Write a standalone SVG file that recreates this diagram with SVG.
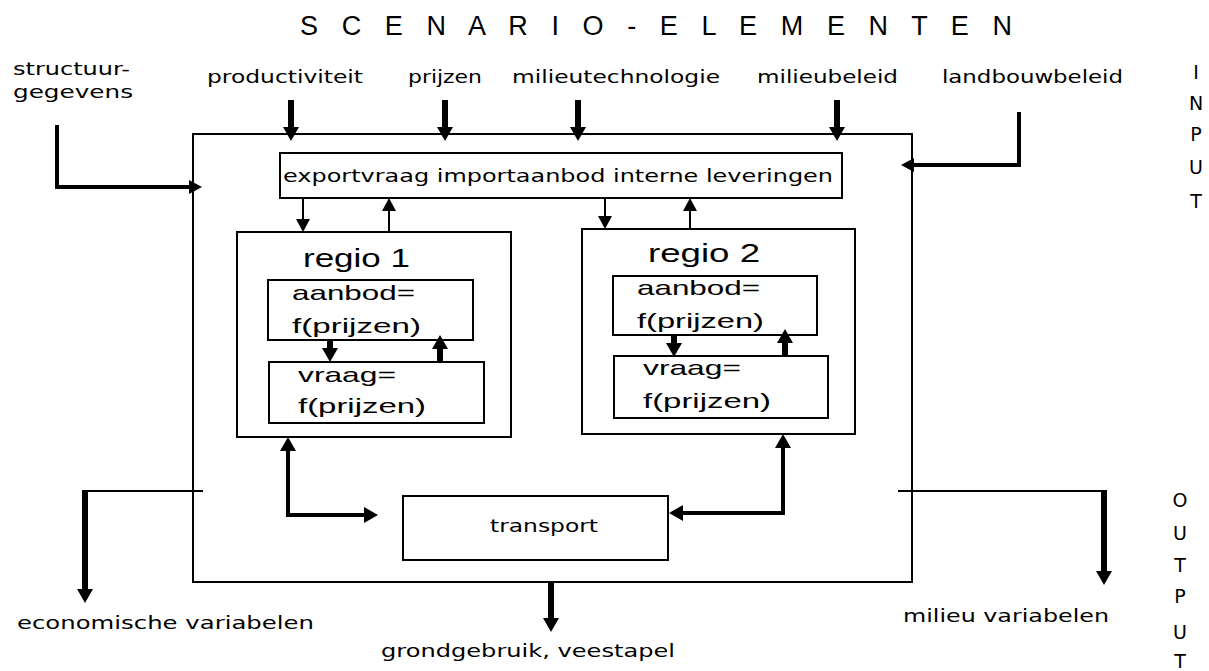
<svg xmlns="http://www.w3.org/2000/svg" width="1209" height="671" viewBox="0 0 1209 671">
<style>
.box{fill:none;stroke:#000;stroke-width:2}
.lbl{font-family:"DejaVu Sans","Liberation Sans",sans-serif;font-size:17px;fill:#000}
.big{font-family:"Liberation Sans",Arial,sans-serif;font-size:21px;fill:#000}
.reg{font-family:"Liberation Sans",Arial,sans-serif;font-size:26px;fill:#000}
.ttl{font-family:"Liberation Sans",Arial,sans-serif;font-size:27px;fill:#000}
.side{font-family:"DejaVu Sans","Liberation Sans",sans-serif;font-size:19px;fill:#000;text-anchor:middle}
.thick{fill:none;stroke:#000;stroke-width:6}
.mid{fill:none;stroke:#000;stroke-width:4}
.thin{fill:none;stroke:#000;stroke-width:2}
</style>
<defs>
<marker id="hb" markerUnits="userSpaceOnUse" markerWidth="16" markerHeight="16" refX="2" refY="8" orient="auto-start-reverse"><path d="M0,0 L14,8 L0,16 z" fill="#000"/></marker>
<marker id="hs" markerUnits="userSpaceOnUse" markerWidth="14" markerHeight="14" refX="2" refY="7" orient="auto-start-reverse"><path d="M0,0 L13,7 L0,14 z" fill="#000"/></marker>
</defs>
<text class="ttl" x="300" y="35" textLength="712" lengthAdjust="spacing">S C E N A R I O - E L E M E N T E N</text>
<g id="inputs">
<text class="lbl" x="13" y="75" textLength="117" lengthAdjust="spacingAndGlyphs">structuur-</text>
<text class="lbl" x="13" y="98" textLength="120" lengthAdjust="spacingAndGlyphs">gegevens</text>
<text class="lbl" x="207" y="83" textLength="156" lengthAdjust="spacingAndGlyphs">productiviteit</text>
<text class="lbl" x="408" y="83" textLength="74" lengthAdjust="spacingAndGlyphs">prijzen</text>
<text class="lbl" x="512" y="83" textLength="208" lengthAdjust="spacingAndGlyphs">milieutechnologie</text>
<text class="lbl" x="757" y="83" textLength="141" lengthAdjust="spacingAndGlyphs">milieubeleid</text>
<text class="lbl" x="942" y="83" textLength="181" lengthAdjust="spacingAndGlyphs">landbouwbeleid</text>
</g>
<g id="input-side">
<text class="side" x="1196" y="79">I</text>
<text class="side" x="1196" y="110">N</text>
<text class="side" x="1196" y="141">P</text>
<text class="side" x="1196" y="174">U</text>
<text class="side" x="1196" y="208">T</text>
</g>
<g id="output-side">
<text class="side" x="1180" y="507">O</text>
<text class="side" x="1180" y="540">U</text>
<text class="side" x="1180" y="572">T</text>
<text class="side" x="1180" y="603">P</text>
<text class="side" x="1180" y="639">U</text>
<text class="side" x="1180" y="668">T</text>
</g>
<g id="systeem"><rect class="box" x="193" y="134" width="719" height="448"/></g>
<g id="export"><rect class="box" x="280" y="153" width="562" height="45"/>
<text class="lbl" x="283" y="182" textLength="550" lengthAdjust="spacingAndGlyphs">exportvraag importaanbod interne leveringen</text></g>
<g id="regio1"><rect class="box" x="237" y="232" width="274" height="205"/>
<text class="reg" x="303" y="267" textLength="107" lengthAdjust="spacingAndGlyphs">regio 1</text></g>
<g id="aanbod1"><rect class="box" x="268" y="280" width="205" height="60"/>
<text class="big" x="292" y="300" textLength="123" lengthAdjust="spacingAndGlyphs">aanbod=</text>
<text class="big" x="292" y="333" textLength="129" lengthAdjust="spacingAndGlyphs">f(prijzen)</text></g>
<g id="vraag1"><rect class="box" x="269" y="362" width="215" height="61"/>
<text class="big" x="298" y="382" textLength="98" lengthAdjust="spacingAndGlyphs">vraag=</text>
<text class="big" x="298" y="413" textLength="128" lengthAdjust="spacingAndGlyphs">f(prijzen)</text></g>
<g id="regio2"><rect class="box" x="582" y="229" width="273" height="205"/>
<text class="reg" x="648" y="262" textLength="112" lengthAdjust="spacingAndGlyphs">regio 2</text></g>
<g id="aanbod2"><rect class="box" x="613" y="276" width="204" height="59"/>
<text class="big" x="637" y="295" textLength="123" lengthAdjust="spacingAndGlyphs">aanbod=</text>
<text class="big" x="637" y="328" textLength="127" lengthAdjust="spacingAndGlyphs">f(prijzen)</text></g>
<g id="vraag2"><rect class="box" x="614" y="356" width="214" height="62"/>
<text class="big" x="643" y="375" textLength="98" lengthAdjust="spacingAndGlyphs">vraag=</text>
<text class="big" x="643" y="408" textLength="128" lengthAdjust="spacingAndGlyphs">f(prijzen)</text></g>
<g id="transport"><rect class="box" x="403" y="496" width="265" height="64"/>
<text class="lbl" x="490" y="532" textLength="108" lengthAdjust="spacingAndGlyphs">transport</text></g>
<g id="outputs">
<text class="lbl" x="17" y="629" textLength="297" lengthAdjust="spacingAndGlyphs">economische variabelen</text>
<text class="lbl" x="381" y="657" textLength="294" lengthAdjust="spacingAndGlyphs">grondgebruik, veestapel</text>
<text class="lbl" x="903" y="622" textLength="206" lengthAdjust="spacingAndGlyphs">milieu variabelen</text>
</g>
<g id="connectors">
<path class="thick" d="M291,100 V129" marker-end="url(#hb)"/>
<path class="thick" d="M445,100 V129" marker-end="url(#hb)"/>
<path class="thick" d="M578,100 V129" marker-end="url(#hb)"/>
<path class="thick" d="M837,100 V129" marker-end="url(#hb)"/>
<path class="mid" d="M1019,112 V165 H912" marker-end="url(#hs)"/>
<path class="mid" d="M57,125 V187 H191" marker-end="url(#hs)"/>
<path class="thin" d="M303,198 V221" marker-end="url(#hs)"/>
<path class="thin" d="M389,232 V209" marker-end="url(#hs)"/>
<path class="thin" d="M605,198 V218" marker-end="url(#hs)"/>
<path class="thin" d="M690,229 V209" marker-end="url(#hs)"/>
<path class="thick" d="M330,340 V350" marker-end="url(#hb)"/>
<path class="thick" d="M440,362 V347" marker-end="url(#hb)"/>
<path class="thick" d="M674,335 V345" marker-end="url(#hb)"/>
<path class="thick" d="M785,356 V341" marker-end="url(#hb)"/>
<path class="mid" d="M288,449 V515 H366" marker-start="url(#hb)" marker-end="url(#hb)"/>
<path class="mid" d="M783,446 V513 H681" marker-start="url(#hb)" marker-end="url(#hb)"/>
<path class="thin" d="M203,491 H85"/>
<path class="thick" d="M85,490 V591" marker-end="url(#hb)"/>
<path class="thick" d="M551,582 V620" marker-end="url(#hb)"/>
<path class="thin" d="M898,491 H1104"/>
<path class="thick" d="M1104,490 V573" marker-end="url(#hb)"/>
</g>
</svg>
